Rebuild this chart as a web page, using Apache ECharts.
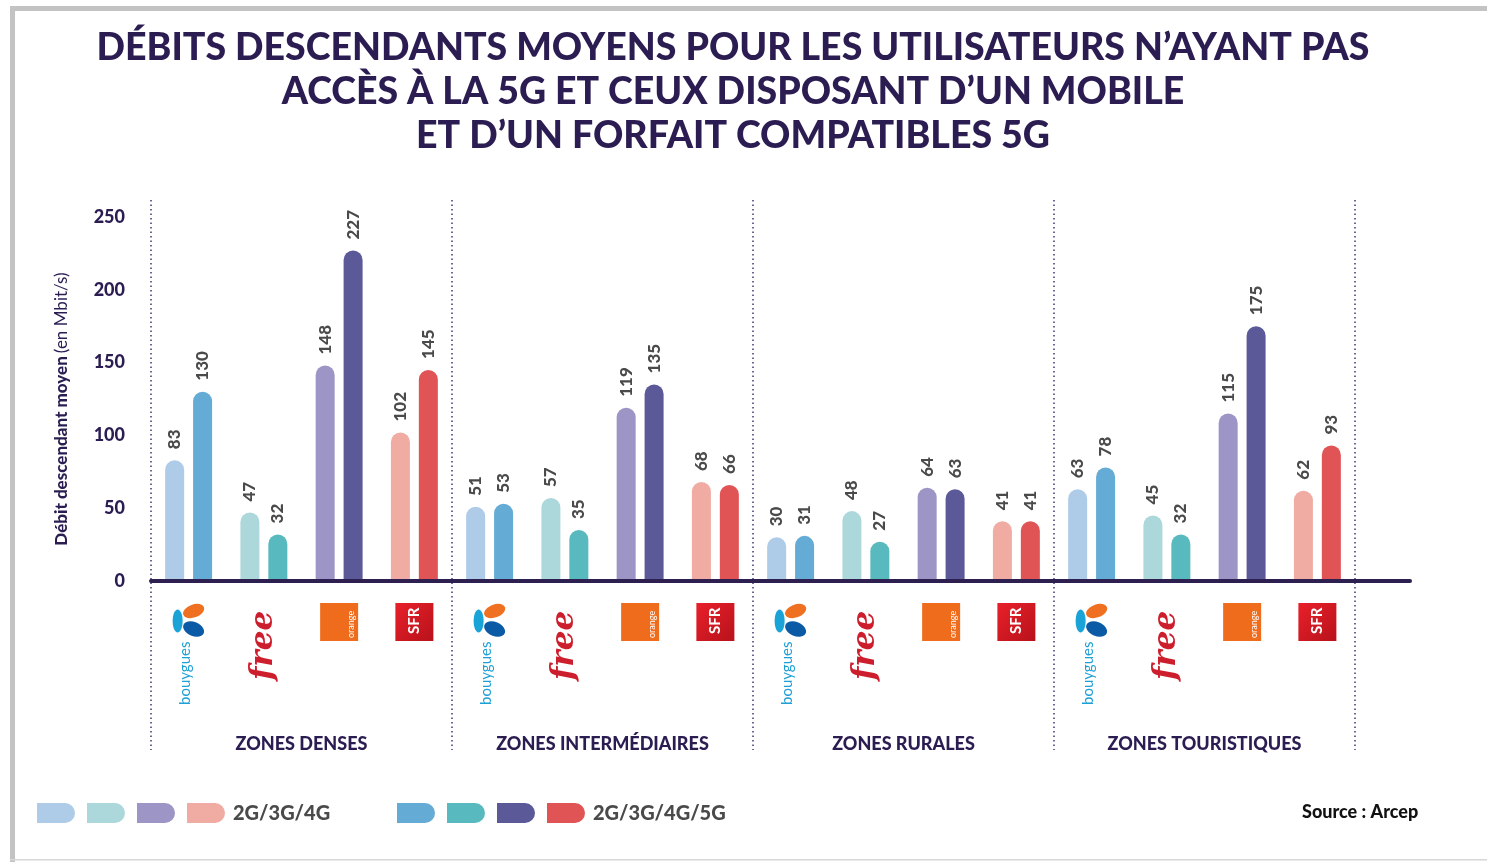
<!DOCTYPE html>
<html>
<head>
<meta charset="utf-8">
<script src="https://cdn.jsdelivr.net/npm/echarts@6/dist/echarts.min.js"></script>
<style>
  html, body { margin: 0; padding: 0; background: #fff; }
  #chart { width: 1487px; height: 862px; }
</style>
</head>
<body>
<div id="chart"></div>
<script>
var zones = ['ZONES DENSES', 'ZONES INTERMÉDIAIRES', 'ZONES RURALES', 'ZONES TOURISTIQUES'];
var operators = ['Bouygues', 'Free', 'Orange', 'SFR'];
// per zone, in operator order
var debit4G = [83, 47, 148, 102, 51, 57, 119, 68, 30, 48, 64, 41, 63, 45, 115, 62];
var debit5G = [130, 32, 227, 145, 53, 35, 135, 66, 31, 27, 63, 41, 78, 32, 175, 93];
var yMin = 0, yMax = 250, yStep = 50;
var legendLabels = ['2G/3G/4G', '2G/3G/4G/5G'];

var lightColors = ['#aecbe8', '#acd8dc', '#9d95c6', '#f0aca3'];
var darkColors = ['#64abd5', '#58babe', '#5c5999', '#e05455'];
var navy = '#2b1d52';
var grey = '#4a4a4a';
var font = 'Lato, "Noto Sans", sans-serif';

var cats = [];
zones.forEach(function(z) {
  operators.forEach(function(o) { cats.push(o + ' - ' + z); });
});

var chart = echarts.init(document.getElementById('chart'));

var barLabel = {
  show: true, position: 'top', rotate: 90, align: 'left', verticalAlign: 'middle',
  distance: 11, color: grey, fontSize: 17, fontWeight: 900, fontFamily: font
};

chart.setOption({
  animation: false,
  textStyle: { fontFamily: font },
  title: {
    text: 'DÉBITS DESCENDANTS MOYENS POUR LES UTILISATEURS N’AYANT PAS\nACCÈS À LA 5G ET CEUX DISPOSANT D’UN MOBILE\nET D’UN FORFAIT COMPATIBLES 5G',
    left: 728, top: 21, textAlign: 'center',
    textStyle: { color: navy, fontSize: 37.5, fontWeight: 900, lineHeight: 44, fontFamily: font }
  },
  grid: [
    { left: 151, right: 132, top: 217, bottom: 281 },
    { left: 151, right: 132, top: 200, bottom: 112 }
  ],
  xAxis: [
    {
      type: 'category', gridIndex: 0, data: cats,
      axisLine: { show: false }, axisTick: { show: false }, axisLabel: { show: false }
    },
    {
      type: 'category', gridIndex: 1, data: zones,
      axisLine: { show: false }, axisTick: { show: false },
      axisLabel: { inside: true, margin: -3, color: navy, fontSize: 18, fontWeight: 900, fontFamily: font },
      splitLine: { show: true, lineStyle: { color: '#3d3772', width: 1.5, type: [1.5, 3] } }
    }
  ],
  yAxis: [
    {
      type: 'value', gridIndex: 0, min: yMin, max: yMax, interval: yStep,
      axisLine: { show: false }, axisTick: { show: false }, splitLine: { show: false },
      axisLabel: { color: navy, fontSize: 18, fontWeight: 900, margin: 26, fontFamily: font },
      name: '{b|Débit descendant moyen} {n|(en Mbit/s)}',
      nameLocation: 'middle', nameRotate: 90, nameGap: 81,
      nameTextStyle: {
        padding: [0, 20, 0, 0],
        rich: {
          b: { color: navy, fontSize: 17, fontWeight: 900, fontFamily: font },
          n: { color: navy, fontSize: 17, fontFamily: font }
        }
      }
    },
    { type: 'value', gridIndex: 1, show: false }
  ],
  series: [
    {
      name: legendLabels[0], type: 'bar', data: debit4G, barWidth: 19, barGap: '47%',
      itemStyle: { color: function(p) { return lightColors[p.dataIndex % 4]; }, borderRadius: [10, 10, 0, 0] },
      label: barLabel
    },
    {
      name: legendLabels[1], type: 'bar', data: debit5G, barWidth: 19,
      itemStyle: { color: function(p) { return darkColors[p.dataIndex % 4]; }, borderRadius: [10, 10, 0, 0] },
      label: barLabel
    }
  ]
});

// --- decorations: frame, baseline, logos, legend, source ---
var y0 = chart.convertToPixel({ yAxisIndex: 0 }, 0);
var gfx = [
  { type: 'rect', shape: { x: 10, y: 6, width: 1477, height: 5 }, style: { fill: '#c3c3c3' } },
  { type: 'rect', shape: { x: 10, y: 6, width: 5, height: 856 }, style: { fill: '#c3c3c3' } },
  { type: 'rect', shape: { x: 10, y: 859, width: 1477, height: 1.5 }, style: { fill: '#d6d6d6' } },
  { type: 'line', shape: { x1: 151, y1: y0, x2: 1410, y2: y0 }, style: { stroke: '#2d1f4f', lineWidth: 4, lineCap: 'round' }, z: 10 }
];

function logo(op, cx, top) {
  if (op === 'Bouygues') {
    return [
      { type: 'ellipse', shape: { cx: cx + 5, cy: top + 8, rx: 11, ry: 6.5 }, rotation: 0.35, originX: cx + 5, originY: top + 8, style: { fill: '#f07022' } },
      { type: 'ellipse', shape: { cx: cx - 11, cy: top + 18, rx: 5, ry: 11.5 }, style: { fill: '#1aa3d6' } },
      { type: 'ellipse', shape: { cx: cx + 5, cy: top + 26, rx: 11, ry: 7 }, rotation: -0.4, originX: cx + 5, originY: top + 26, style: { fill: '#0a5aa6' } },
      { type: 'text', x: cx - 3, y: top + 102, rotation: Math.PI / 2,
        style: { text: 'bouygues', fill: '#1ea0d6', font: '15px ' + font, align: 'left', verticalAlign: 'middle' } }
    ];
  }
  if (op === 'Free') {
    return [
      { type: 'text', x: cx, y: top + 77, rotation: Math.PI / 2,
        style: { text: 'free', fill: '#cd1e2d', font: 'italic bold 31px "DejaVu Serif", serif', align: 'left', verticalAlign: 'middle' } }
    ];
  }
  if (op === 'Orange') {
    return [
      { type: 'rect', shape: { x: cx - 19, y: top, width: 38, height: 38 }, style: { fill: '#ef6c1d' } },
      { type: 'text', x: cx + 12, y: top + 35, rotation: Math.PI / 2,
        style: { text: 'orange', fill: '#fff', font: '9px ' + font, align: 'left', verticalAlign: 'middle' } }
    ];
  }
  return [
    { type: 'rect', shape: { x: cx - 19, y: top, width: 38, height: 38 },
      style: { fill: new echarts.graphic.LinearGradient(0, 0, 1, 1, [{ offset: 0, color: '#e8202a' }, { offset: 1, color: '#b8121b' }]) } },
    { type: 'text', x: cx, y: top + 31, rotation: Math.PI / 2,
      style: { text: 'SFR', fill: '#fff', font: 'bold 15px ' + font, align: 'left', verticalAlign: 'middle' } }
  ];
}

cats.forEach(function(c, i) {
  var cx = chart.convertToPixel({ xAxisIndex: 0 }, i);
  gfx = gfx.concat(logo(operators[i % 4], cx, y0 + 22));
});

// legend: 4 light chips + label, 4 dark chips + label
[[lightColors, 37], [darkColors, 397]].forEach(function(g, k) {
  g[0].forEach(function(col, j) {
    gfx.push({ type: 'rect', shape: { x: g[1] + j * 50, y: 803, width: 38, height: 20, r: [0, 10, 10, 0] }, style: { fill: col } });
  });
  gfx.push({ type: 'text', x: g[1] + 196, y: 814,
    style: { text: legendLabels[k], fill: grey, font: '900 20px ' + font, align: 'left', verticalAlign: 'middle' } });
});

gfx.push({ type: 'text', x: 1302, y: 812,
  style: { text: 'Source : Arcep', fill: '#111', font: '900 18px ' + font, align: 'left', verticalAlign: 'middle' } });

chart.setOption({ graphic: { elements: gfx } });
window.addEventListener('resize', function() { chart.resize(); });
</script>
</body>
</html>
